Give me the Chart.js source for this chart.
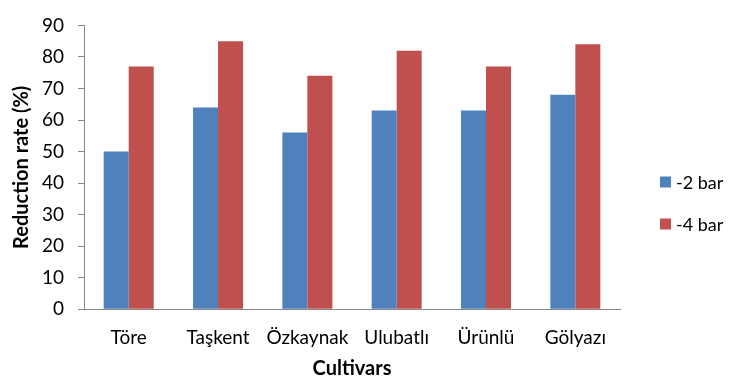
<!DOCTYPE html>
<html><head><meta charset="utf-8">
<script src="https://cdn.jsdelivr.net/npm/chart.js@4"></script>
<style>html,body{margin:0;padding:0;background:#fff}#w{width:729px;height:376px}</style>
</head><body><div id="w"><canvas id="c"></canvas></div>
<script>
const categories = ["Töre","Taşkent","Özkaynak","Ulubatlı","Ürünlü","Gölyazı"];
const series2 = [50,64,56,63,63,68];
const series4 = [77,85,74,82,77,84];
const seriesNames = ["-2 bar","-4 bar"];
const seriesColors = ["#4F81BD","#C0504D"];
const yTitle = "Reduction rate (%)";
const xTitle = "Cultivars";
const FONT = "Lato, 'Open Sans', sans-serif";
Chart.defaults.font.family = FONT;
Chart.defaults.color = "#000";

const sideLegend = {
  id: 'sideLegend',
  afterDraw(chart) {
    const ctx = chart.ctx;
    const x = 660, ys = [182, 224], box = 11;
    ctx.save();
    ctx.font = "18px " + FONT;
    ctx.textBaseline = 'middle';
    ctx.textAlign = 'left';
    chart.data.datasets.forEach((ds, i) => {
      ctx.fillStyle = ds.backgroundColor;
      ctx.fillRect(x, ys[i] - box / 2, box, box);
      ctx.fillStyle = '#000';
      ctx.fillText(ds.label, x + 16, ys[i] + 1);
    });
    ctx.restore();
  }
};

new Chart(document.getElementById('c'), {
  type: 'bar',
  data: {
    labels: categories,
    datasets: [
      {label: seriesNames[0], data: series2, backgroundColor: seriesColors[0], borderWidth: 0, categoryPercentage: 0.56, barPercentage: 1},
      {label: seriesNames[1], data: series4, backgroundColor: seriesColors[1], borderWidth: 0, categoryPercentage: 0.56, barPercentage: 1}
    ]
  },
  options: {
    responsive: true, maintainAspectRatio: false, animation: false,
    layout: {autoPadding: false, padding: {top: 21, left: 10, right: 109, bottom: -5}},
    plugins: {
      tooltip: {enabled: false},
      legend: {display: false}
    },
    scales: {
      x: {
        grid: {display: false},
        border: {display: true, color: '#888', width: 1},
        ticks: {font: {size: 19}, padding: 9, color: '#000'},
        title: {display: true, text: xTitle, font: {size: 20, weight: 'bold'}, padding: {top: -1, bottom: 0}}
      },
      y: {
        min: 0, max: 90,
        ticks: {stepSize: 10, font: {size: 19}, padding: 14, color: '#000'},
        grid: {drawOnChartArea: false, drawTicks: true, tickLength: 6, color: '#888'},
        border: {display: true, color: '#888', width: 1},
        title: {display: true, text: yTitle, font: {size: 20, weight: 'bold'}, padding: {top: 0, bottom: -6}}
      }
    }
  },
  plugins: [sideLegend]
});
</script></body></html>
